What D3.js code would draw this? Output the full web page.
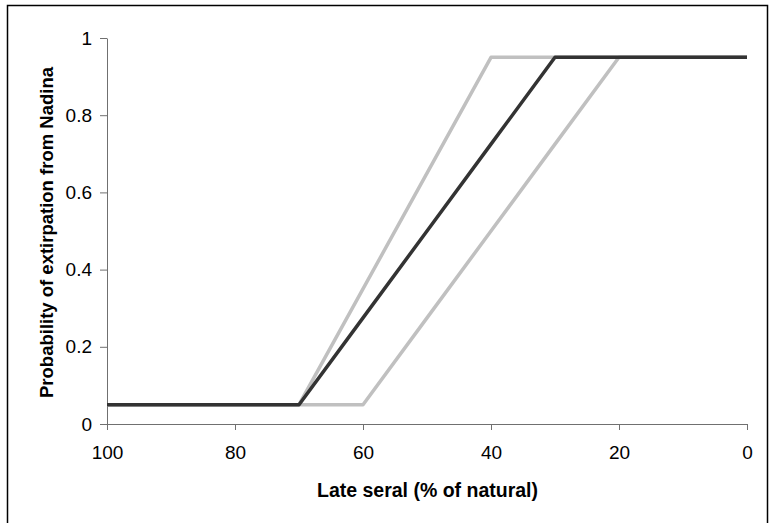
<!DOCTYPE html>
<html>
<head>
<meta charset="utf-8">
<script src="https://cdn.jsdelivr.net/npm/d3@7"></script>
<style>
  body { margin: 0; background: #fff; }
  text { font-family: "Liberation Sans", Arial, sans-serif; }
</style>
</head>
<body>
<div id="chart"></div>
<script>
// Chart data
const LATE_SERAL = [100, 90, 80, 70, 60, 50, 40, 30, 20, 10, 0];
const PROB_MEAN  = [0.05, 0.05, 0.05, 0.05, 0.275, 0.5, 0.725, 0.95, 0.95, 0.95, 0.95];
const PROB_HIGH  = [0.05, 0.05, 0.05, 0.05, 0.35, 0.65, 0.95, 0.95, 0.95, 0.95, 0.95];
const PROB_LOW   = [0.05, 0.05, 0.05, 0.05, 0.05, 0.275, 0.5, 0.725, 0.95, 0.95, 0.95];
const X_TICKS = [100, 80, 60, 40, 20, 0];
const Y_TICKS = [0, 0.2, 0.4, 0.6, 0.8, 1];

const FRAME_WIDTH = 769;
const FRAME_HEIGHT = 523;
const MARGINS = {left: 107, right: 22, top: 38, bottom: 99};

const FRAME = d3.select("#chart")
  .append("svg")
    .attr("width", FRAME_WIDTH)
    .attr("height", FRAME_HEIGHT);

// outer border
FRAME.append("rect")
  .attr("x", 7.5).attr("y", 5.5)
  .attr("width", 760).attr("height", 530)
  .attr("fill", "none")
  .attr("stroke", "#000")
  .attr("stroke-width", 1.5);

const X_SCALE = d3.scaleLinear()
  .domain([100, 0])
  .range([MARGINS.left, FRAME_WIDTH - MARGINS.right]);

const Y_SCALE = d3.scaleLinear()
  .domain([0, 1])
  .range([FRAME_HEIGHT - MARGINS.bottom, MARGINS.top]);

// x axis
const xAxis = FRAME.append("g")
  .attr("transform", "translate(0," + Y_SCALE(0) + ")")
  .call(d3.axisBottom(X_SCALE).tickValues(X_TICKS).tickSize(6).tickSizeOuter(0).tickPadding(16).tickFormat(d3.format("d")));

// y axis
const yAxis = FRAME.append("g")
  .attr("transform", "translate(" + X_SCALE(100) + ",0)")
  .call(d3.axisLeft(Y_SCALE).tickValues(Y_TICKS).tickSize(7).tickSizeOuter(0).tickPadding(8).tickFormat(d => d3.format("")(d)));

[xAxis, yAxis].forEach(ax => {
  ax.select(".domain").attr("stroke", "#707070");
  ax.selectAll(".tick line").attr("stroke", "#707070");
  ax.selectAll(".tick text")
    .attr("fill", "#000")
    .style("font-size", "19px")
    .style("font-family", "'Liberation Sans', Arial, sans-serif");
});

// lines
const series = [
  {vals: PROB_HIGH, color: "#c0c0c0"},
  {vals: PROB_LOW, color: "#c0c0c0"},
  {vals: PROB_MEAN, color: "#333333"}
];

const line = d3.line()
  .x((d, i) => X_SCALE(LATE_SERAL[i]))
  .y(d => Y_SCALE(d));

FRAME.selectAll(".series")
  .data(series)
  .enter()
  .append("path")
    .attr("class", "series")
    .attr("d", d => line(d.vals))
    .attr("fill", "none")
    .attr("stroke", d => d.color)
    .attr("stroke-width", 3.5)
    .attr("stroke-linejoin", "round");

// axis titles
FRAME.append("text")
  .attr("x", 427.5)
  .attr("y", 497)
  .attr("text-anchor", "middle")
  .style("font-size", "19.5px")
  .style("font-weight", "bold")
  .text("Late seral (% of natural)");

FRAME.append("text")
  .attr("transform", "translate(53,232.5) rotate(-90)")
  .attr("text-anchor", "middle")
  .style("font-size", "18.5px")
  .style("font-weight", "bold")
  .text("Probability of extirpation from Nadina");
</script>
</body>
</html>
